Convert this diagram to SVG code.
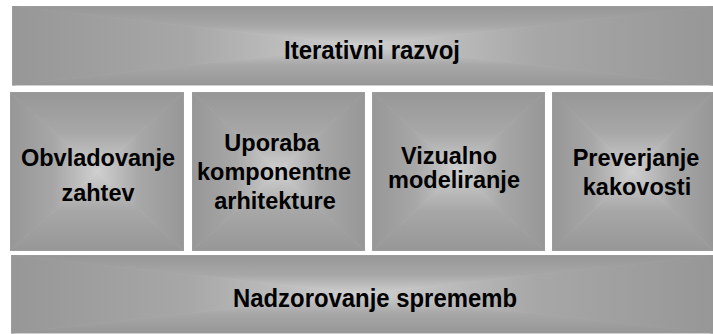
<svg xmlns="http://www.w3.org/2000/svg" width="713" height="334" viewBox="0 0 713 334">
<defs>
<linearGradient id="gT" x1="0" y1="0" x2="0" y2="1"><stop offset="0" stop-color="#979797"/><stop offset="0.5" stop-color="#a7a7a7"/><stop offset="1" stop-color="#cfcfcf"/></linearGradient>
<linearGradient id="gB" x1="0" y1="1" x2="0" y2="0"><stop offset="0" stop-color="#979797"/><stop offset="0.5" stop-color="#a7a7a7"/><stop offset="1" stop-color="#cfcfcf"/></linearGradient>
<linearGradient id="gL" x1="0" y1="0" x2="1" y2="0"><stop offset="0" stop-color="#979797"/><stop offset="0.5" stop-color="#a7a7a7"/><stop offset="1" stop-color="#cfcfcf"/></linearGradient>
<linearGradient id="gR" x1="1" y1="0" x2="0" y2="0"><stop offset="0" stop-color="#979797"/><stop offset="0.5" stop-color="#a7a7a7"/><stop offset="1" stop-color="#cfcfcf"/></linearGradient>
</defs>
<style>
polygon{stroke-width:0.9;stroke-linejoin:miter}
.t{fill:url(#gT);stroke:url(#gT)}.b{fill:url(#gB);stroke:url(#gB)}.l{fill:url(#gL);stroke:url(#gL)}.r{fill:url(#gR);stroke:url(#gR)}
text{font-family:"Liberation Sans",Arial,sans-serif;font-weight:bold;fill:#000;text-anchor:middle}
.bar{font-size:26px}
.box{font-size:23.5px}
</style>
<rect width="713" height="334" fill="#fff"/>
<g id="iterativni-razvoj">
<polygon class="t" points="12.5,6.5 713,6.5 362.5,45.5"/>
<polygon class="b" points="12.5,85 713,85 362.5,45.5"/>
<polygon class="l" points="12.5,6.5 12.5,85 362.5,45.5"/>
<polygon class="r" points="713,6.5 713,85 362.5,45.5"/>
<text class="bar" x="372" y="59" textLength="176" lengthAdjust="spacingAndGlyphs">Iterativni razvoj</text>
</g>
<g id="obvladovanje-zahtev">
<polygon class="t" points="10.5,92.5 183.5,92.5 97,171.5"/>
<polygon class="b" points="10.5,250.5 183.5,250.5 97,171.5"/>
<polygon class="l" points="10.5,92.5 10.5,250.5 97,171.5"/>
<polygon class="r" points="183.5,92.5 183.5,250.5 97,171.5"/>
<text class="box" x="98" y="166">Obvladovanje</text>
<text class="box" x="98" y="201">zahtev</text>
</g>
<g id="uporaba-komponentne-arhitekture">
<polygon class="t" points="192.5,92.5 364.5,92.5 278.5,171.5"/>
<polygon class="b" points="192.5,250.5 364.5,250.5 278.5,171.5"/>
<polygon class="l" points="192.5,92.5 192.5,250.5 278.5,171.5"/>
<polygon class="r" points="364.5,92.5 364.5,250.5 278.5,171.5"/>
<text class="box" x="272" y="151">Uporaba</text>
<text class="box" x="274" y="180">komponentne</text>
<text class="box" x="275" y="209">arhitekture</text>
</g>
<g id="vizualno-modeliranje">
<polygon class="t" points="372.5,92.5 544.5,92.5 458.5,171.5"/>
<polygon class="b" points="372.5,250.5 544.5,250.5 458.5,171.5"/>
<polygon class="l" points="372.5,92.5 372.5,250.5 458.5,171.5"/>
<polygon class="r" points="544.5,92.5 544.5,250.5 458.5,171.5"/>
<text class="box" x="449" y="164">Vizualno</text>
<text class="box" x="454" y="188">modeliranje</text>
</g>
<g id="preverjanje-kakovosti">
<polygon class="t" points="552.5,92.5 713,92.5 632.5,171.5"/>
<polygon class="b" points="552.5,250.5 713,250.5 632.5,171.5"/>
<polygon class="l" points="552.5,92.5 552.5,250.5 632.5,171.5"/>
<polygon class="r" points="713,92.5 713,250.5 632.5,171.5"/>
<text class="box" x="636" y="166">Preverjanje</text>
<text class="box" x="637" y="195">kakovosti</text>
</g>
<g id="nadzorovanje-sprememb">
<polygon class="t" points="11.5,255.5 713,255.5 362,294"/>
<polygon class="b" points="11.5,333 713,333 362,294"/>
<polygon class="l" points="11.5,255.5 11.5,333 362,294"/>
<polygon class="r" points="713,255.5 713,333 362,294"/>
<text class="bar" x="375" y="307" textLength="284" lengthAdjust="spacingAndGlyphs">Nadzorovanje sprememb</text>
</g>
<g id="connectors"/>
</svg>
